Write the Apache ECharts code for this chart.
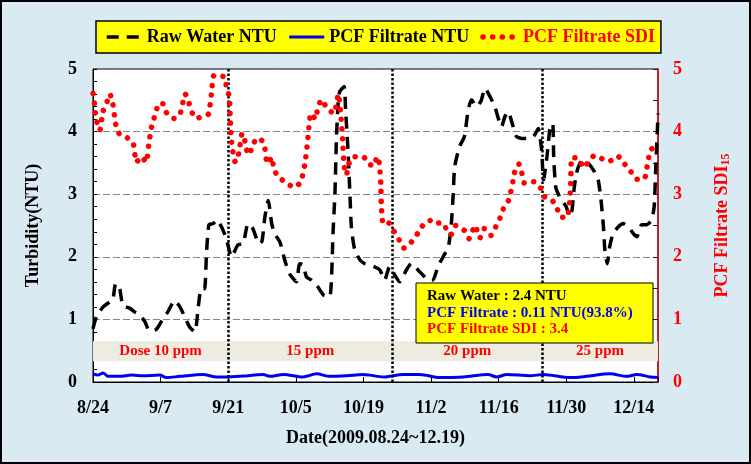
<!DOCTYPE html>
<html>
<head>
<meta charset="utf-8">
<script src="https://cdn.jsdelivr.net/npm/echarts@6/dist/echarts.min.js"></script>
<style>html,body{margin:0;padding:0;background:#DAEAF3;}#c{width:751px;height:464px;}</style>
</head>
<body>
<div id="c"></div>
<script>
// ---- data ----
const xTickLabels = ['8/24','9/7','9/21','10/5','10/19','11/2','11/16','11/30','12/14'];
const doseChangeDays = [28, 62, 93];
const doseLabels = ['Dose 10 ppm','15 ppm','20 ppm','25 ppm'];
const seriesNames = ['Raw Water NTU','PCF Filtrate NTU','PCF Filtrate SDI'];

const rawDays = [0,0.7,2.1,3.5,4.1,4.7,5.5,6.2,7.6,8.6,9.7,10.7,11.7,13.1,14.5,15.5,16.9,18.0,19.0,20.0,21.1,21.8,22.4,23.1,23.5,24.0,24.9,25.6,26.6,27.6,28.7,30.0,31.1,32.1,33.1,34.4,35.0,35.6,36.3,37.0,37.6,38.7,39.7,40.7,42.1,42.8,43.5,44.2,45.2,46.3,47.7,49.0,49.4,49.7,50.1,50.4,50.8,51.1,52.0,52.3,52.8,53.2,53.5,54.2,55.3,56.3,57.3,58.3,59.4,60.4,61.4,62.1,63.5,64.9,65.9,67.3,68.3,69.4,70.4,71.4,72.5,73.6,74.2,74.6,74.9,75.9,76.9,77.7,78.4,79.4,80.3,81.2,82.2,83.2,84.6,85.3,86.0,86.7,87.7,89.1,90.5,91.5,92.2,92.9,93.3,94.0,94.6,95.2,95.4,95.8,96.3,97.0,98.0,98.7,99.2,99.6,100.1,100.8,101.5,102.6,103.6,104.6,105.2,105.7,106.0,106.5,107.0,107.7,108.8,109.8,110.8,111.9,112.6,113.6,114.6,115.7,116.2,116.4,116.6,116.9,117.0];
const rawNTU = [0.85,1.04,1.20,1.28,1.31,1.57,1.50,1.22,1.18,1.12,1.07,0.97,0.82,0.84,1.01,1.12,1.30,1.20,1.04,0.88,0.80,1.20,1.49,1.49,2.05,2.51,2.53,2.59,2.48,2.29,2.00,2.19,2.21,2.53,2.45,2.21,2.25,2.64,2.90,2.53,2.37,2.24,1.95,1.73,1.60,1.89,1.87,1.68,1.63,1.55,1.39,1.36,1.68,2.37,3.01,3.87,4.51,4.64,4.72,4.35,3.71,3.01,2.48,2.11,1.95,1.89,1.87,1.84,1.79,1.63,1.84,1.76,1.60,1.79,1.89,1.79,1.71,1.63,1.63,1.84,2.00,2.16,2.53,3.01,3.44,3.76,3.92,4.35,4.51,4.40,4.48,4.69,4.56,4.40,4.08,4.24,4.32,4.16,3.92,3.89,3.89,3.95,4.05,3.70,3.23,3.60,4.03,4.13,3.60,3.12,3.01,2.91,2.80,2.64,2.75,3.07,3.33,3.49,3.55,3.49,3.39,3.23,2.91,2.48,2.11,1.89,2.16,2.37,2.48,2.53,2.48,2.37,2.32,2.51,2.51,2.59,2.80,3.12,3.55,4.08,4.29];

const pcfDays = [0,1,2.1,3.1,5.5,8.0,10.4,13.8,15.2,18.0,22.8,25.6,27.6,31.1,35.2,36.6,39.4,43.5,46.3,49.0,52.5,55.9,57.3,60.1,64.2,67.7,71.8,76.7,81.8,83.6,85.7,90.5,93.2,98.8,102.2,107.1,110.5,112.6,115.4,117];
const pcfNTU = [0.13,0.11,0.145,0.09,0.09,0.11,0.10,0.11,0.07,0.09,0.12,0.08,0.08,0.095,0.12,0.09,0.12,0.08,0.13,0.09,0.10,0.12,0.11,0.08,0.12,0.12,0.07,0.08,0.12,0.08,0.12,0.10,0.12,0.07,0.09,0.13,0.09,0.12,0.08,0.07];

const sdiDays = [0,0.3,0.5,0.9,1.4,2.1,2.8,3.5,4.1,4.7,5.4,7.1,8.3,9.0,10.0,11.0,11.6,12.3,13.0,13.6,14.6,15.3,16.8,18.1,19.1,19.9,20.6,21.5,22.7,23.9,24.5,25.1,27.3,27.6,28.2,28.5,28.8,29.5,30.2,30.9,31.4,31.8,32.5,32.9,34.3,35.4,36.1,37.1,37.4,38.3,39.9,41.6,43.0,43.9,44.4,44.8,45.1,46.1,46.5,47.3,48.5,49.9,50.4,50.8,51.4,51.7,51.9,52.1,52.5,52.9,54.0,55.9,57.2,58.2,58.8,59.3,59.6,59.7,60.1,61.1,62.3,63.4,64.4,65.5,66.5,67.5,68.6,70.3,71.5,72.7,73.4,74.2,75.1,76.9,77.9,79.1,80.1,81.0,82.4,83.4,84.3,85.0,86.1,87.0,87.4,88.2,88.8,89.3,91.2,92.6,93.3,95.0,96.1,97.0,98.2,98.6,98.9,99.0,99.2,100.6,101.7,102.6,103.9,105.6,107.0,108.6,110.0,111.3,112.6,114.1,115.0,115.5,116.4,117.0];
const sdiValues = [4.61,4.45,4.29,4.12,4.02,4.33,4.45,4.60,4.45,4.12,3.97,3.90,3.82,3.51,3.60,3.51,3.83,4.14,4.29,4.45,4.44,4.29,4.21,4.30,4.60,4.45,4.29,4.21,4.25,4.28,4.59,4.90,4.87,4.72,4.56,4.08,3.76,3.51,3.66,3.97,3.87,3.71,3.63,3.78,3.90,3.81,3.49,3.59,3.42,3.28,3.19,3.11,3.19,3.50,3.82,4.13,4.29,4.20,4.36,4.51,4.37,4.29,4.44,4.60,4.19,3.87,3.56,3.40,3.31,3.47,3.60,3.60,3.48,3.45,3.60,3.49,3.17,2.85,2.53,2.55,2.41,2.27,2.14,2.19,2.30,2.40,2.53,2.59,2.54,2.53,2.38,2.36,2.50,2.42,2.29,2.50,2.30,2.45,2.34,2.48,2.62,2.77,2.91,3.22,3.38,3.48,3.34,3.18,3.20,3.11,2.97,2.91,2.77,2.63,2.63,2.80,3.11,3.44,3.59,3.56,3.42,3.52,3.62,3.56,3.53,3.61,3.49,3.37,3.24,3.24,3.56,3.71,3.76,3.80];

const annotationLines = ['Raw Water : 2.4 NTU','PCF Filtrate : 0.11 NTU(93.8%)','PCF Filtrate SDI : 3.4'];

// ---- chart ----
const FONT = '"Times New Roman","Liberation Serif",serif';
const zip = (a, b) => a.map((v, i) => [v, b[i]]);
const doseBounds = [0].concat(doseChangeDays, [117]);

const rawLine = {color:'#000000', width:3.5, type:[12,8], cap:'butt'};
const pcfLine = {color:'#0000F0', width:3, type:'solid'};
const sdiLine = {color:'#FF0000', width:5.5, type:[0.1,9.6], cap:'round'};
const hiddenSymbol = {color:'rgba(0,0,0,0)', borderWidth:0, opacity:0};

const chart = echarts.init(document.getElementById('c'), null, {renderer:'canvas'});
chart.setOption({
  backgroundColor:'#DAEAF3',
  animation:false,
  textStyle:{fontFamily:FONT},
  grid:{left:93, right:93, top:69, bottom:82, show:true, backgroundColor:'#FFFFFF', borderColor:'#000', borderWidth:1},
  legend:{
    left:96, top:21,
    padding:[7,6,7,9],
    itemGap:11, itemWidth:35, itemHeight:14,
    backgroundColor:'#FFFF00', borderColor:'#000', borderWidth:1.5,
    textStyle:{fontFamily:FONT, fontWeight:'bold', fontSize:18, color:'#000'},
    data:[
      {name:seriesNames[0], lineStyle:rawLine, itemStyle:hiddenSymbol},
      {name:seriesNames[1], lineStyle:pcfLine, itemStyle:hiddenSymbol},
      {name:seriesNames[2], lineStyle:sdiLine, itemStyle:hiddenSymbol, textStyle:{color:'#FF0000'}}
    ]
  },
  xAxis:{
    type:'value', min:0, max:117, interval:14,
    name:'Date(2009.08.24~12.19)', nameLocation:'middle', nameGap:47,
    nameTextStyle:{fontFamily:FONT, fontWeight:'bold', fontSize:18, color:'#000'},
    axisLine:{lineStyle:{color:'#000', width:1}},
    axisTick:{inside:true, length:5, lineStyle:{color:'#000'}},
    axisLabel:{margin:17, fontFamily:FONT, fontWeight:'bold', fontSize:18, color:'#000',
      formatter:v => { const i = v/14; return Number.isInteger(i) && xTickLabels[i] ? xTickLabels[i] : ''; }},
    splitLine:{show:false}
  },
  yAxis:[
    {
      type:'value', min:0, max:5, interval:1, position:'left',
      name:'Turbidity(NTU)', nameLocation:'middle', nameGap:51, nameRotate:90,
      nameTextStyle:{fontFamily:FONT, fontWeight:'bold', fontSize:18, color:'#000'},
      axisLine:{show:true, lineStyle:{color:'#000', width:1}},
      axisTick:{show:true, inside:true, length:4, lineStyle:{color:'#000'}},
      minorTick:{show:true, splitNumber:5, length:4, lineStyle:{color:'#000'}},
      axisLabel:{margin:16, fontFamily:FONT, fontWeight:'bold', fontSize:18, color:'#000'},
      splitLine:{show:true, lineStyle:{color:'#868686', type:[7,3], width:1}}
    },
    {
      type:'value', min:0, max:5, interval:1, position:'right',
      name:'{a|PCF Filtrate SDI}{b|15}', nameLocation:'middle', nameGap:54, nameRotate:90,
      nameTextStyle:{rich:{
        a:{fontFamily:FONT, fontWeight:'bold', fontSize:18, color:'#FF0000'},
        b:{fontFamily:FONT, fontWeight:'bold', fontSize:12, color:'#FF0000', verticalAlign:'bottom', padding:[8,0,0,0]}
      }},
      axisLine:{show:true, lineStyle:{color:'#E00000', width:1.5}},
      axisTick:{show:true, inside:true, length:5, lineStyle:{color:'#600000'}},
      minorTick:{show:true, splitNumber:2, length:5, lineStyle:{color:'#600000'}},
      axisLabel:{margin:15, fontFamily:FONT, fontWeight:'bold', fontSize:18, color:'#FF0000'},
      splitLine:{show:false}
    }
  ],
  series:[
    {
      name:seriesNames[0], type:'line', yAxisIndex:0, symbol:'none', smooth:0.2,
      data:zip(rawDays, rawNTU), lineStyle:rawLine, itemStyle:{color:'#000'}, z:3,
      markArea:{
        silent:true,
        itemStyle:{color:'#EEECE1'},
        label:{show:true, position:'inside', color:'#FF0000', fontFamily:FONT, fontWeight:'bold', fontSize:15},
        data:doseLabels.map((lab, i) => [
          {name:lab, xAxis:doseBounds[i], yAxis:0.33},
          {xAxis:doseBounds[i+1], yAxis:0.65}
        ])
      },
      markLine:{
        silent:true, symbol:'none', label:{show:false},
        lineStyle:{color:'#000', type:[2.5,2], width:2.5},
        data:doseChangeDays.map(d => ({xAxis:d}))
      }
    },
    {
      name:seriesNames[1], type:'line', yAxisIndex:0, symbol:'none', smooth:0.3,
      data:zip(pcfDays, pcfNTU), lineStyle:pcfLine, itemStyle:{color:'#0000F0'}, z:4
    },
    {
      name:seriesNames[2], type:'line', yAxisIndex:1, symbol:'none', smooth:0.2,
      data:zip(sdiDays, sdiValues), lineStyle:sdiLine, itemStyle:{color:'#FF0000'}, z:5
    }
  ],
  graphic:[
    {type:'rect', z:100, silent:true,
      shape:{x:1, y:1, width:749, height:462}, style:{fill:'none', stroke:'#000', lineWidth:2}},
    {type:'rect', z:60, silent:true, shape:{x:416, y:283, width:237, height:60}, style:{fill:'#FFFF00', stroke:'#000', lineWidth:1}},
    {type:'text', z:61, silent:true, x:427, y:296, style:{text:annotationLines[0], fill:'#000', font:'bold 15px '+FONT, verticalAlign:'middle'}},
    {type:'text', z:61, silent:true, x:427, y:313, style:{text:annotationLines[1], fill:'#0000F0', font:'bold 15px '+FONT, verticalAlign:'middle'}},
    {type:'text', z:61, silent:true, x:427, y:329.5, style:{text:annotationLines[2], fill:'#FF0000', font:'bold 15px '+FONT, verticalAlign:'middle'}}
  ]
});
</script>
</body>
</html>
